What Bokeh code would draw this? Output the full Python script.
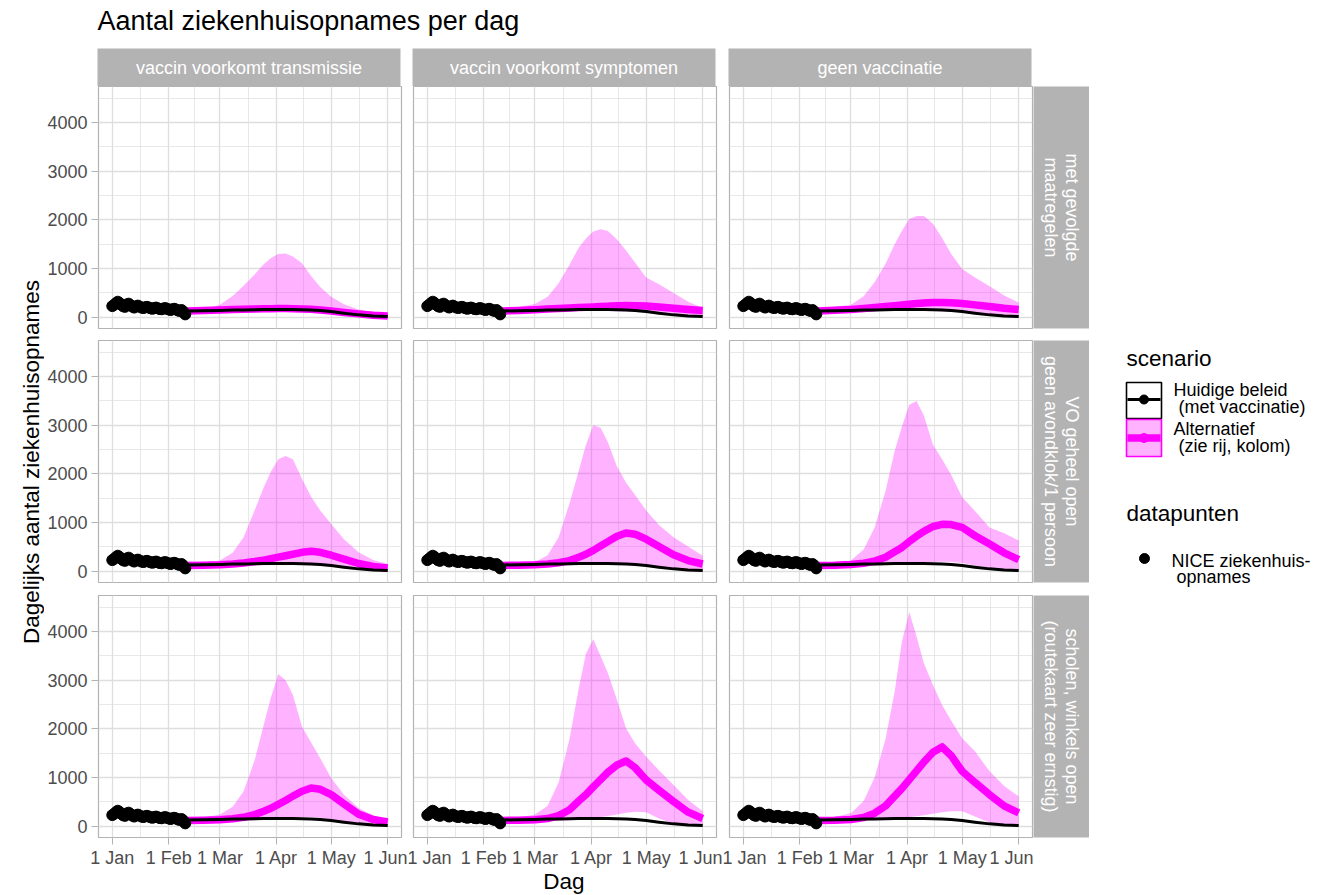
import math
from bokeh.plotting import figure
from bokeh.layouts import row, column
from bokeh.models import Range1d, FixedTicker, ColumnDataSource
from bokeh.embed import file_html
from bokeh.resources import INLINE
from bokeh.core.properties import value

FONT = "Liberation Sans"

# ---------------- data ----------------
title_text = "Aantal ziekenhuisopnames per dag"
y_title = "Dagelijks aantal ziekenhuisopnames"
x_title = "Dag"
col_labels = ["vaccin voorkomt transmissie", "vaccin voorkomt symptomen", "geen vaccinatie"]
row_labels = ["met gevolgde\nmaatregelen",
              "VO geheel open\ngeen avondklok/1 persoon",
              "scholen, winkels open\n(routekaart zeer ernstig)"]
month_ticks = [0, 31, 59, 90, 120, 151]          # days since 1 Jan 2021
month_labels = ["1 Jan", "1 Feb", "1 Mar", "1 Apr", "1 May", "1 Jun"]
y_ticks = [0, 1000, 2000, 3000, 4000]

# NICE observed hospital admissions (days since 1 Jan)
obs_day = list(range(0, 41))
obs_val = [230, 255, 290, 320, 295, 255, 225, 215, 265, 280, 250, 220, 200, 225, 240,
           220, 200, 190, 205, 215, 200, 185, 175, 190, 200, 185, 170, 165, 180, 190,
           175, 160, 150, 165, 175, 160, 140, 130, 150, 115, 60]

model_day = [41, 50, 59, 66, 72, 78, 83, 87, 91, 95, 99, 104, 109, 114, 120, 127, 135, 143, 151]

huidig = [130, 135, 142, 148, 152, 156, 158, 160, 160, 160, 158, 155, 150, 140, 118, 85, 50, 28, 15]

up_r1c1 = [140, 160, 260, 440, 650, 880, 1090, 1220, 1300, 1310, 1250, 1110, 850, 620, 420, 270, 160, 100, 70]
med_r1c1 = [130, 140, 150, 160, 165, 170, 175, 178, 180, 180, 178, 172, 165, 150, 130, 100, 70, 40, 25]
lo_r1c1 = [100, 105, 110, 115, 118, 120, 120, 120, 120, 118, 115, 110, 100, 90, 65, 40, 20, 10, 0]

up_r1c2 = [170, 210, 275, 420, 700, 1080, 1430, 1620, 1760, 1810, 1770, 1600, 1370, 1120, 815, 680, 500, 320, 190]
med_r1c2 = [130, 140, 155, 170, 180, 190, 200, 207, 212, 220, 228, 235, 240, 238, 230, 210, 185, 160, 140]
lo_r1c2 = [100, 105, 110, 115, 120, 125, 128, 130, 130, 130, 128, 125, 118, 110, 95, 75, 50, 30, 15]

up_r1c3 = [170, 210, 260, 430, 720, 1100, 1500, 1780, 2020, 2080, 2080, 1920, 1630, 1300, 990, 815, 640, 450, 300]
med_r1c3 = [130, 145, 160, 180, 200, 220, 240, 255, 270, 282, 292, 302, 305, 300, 285, 255, 220, 185, 160]
lo_r1c3 = [100, 105, 112, 118, 124, 130, 134, 136, 138, 138, 136, 132, 125, 115, 100, 80, 55, 35, 20]

up_r2c1 = [150, 180, 220, 380, 700, 1250, 1720, 2050, 2300, 2370, 2300, 1900, 1530, 1250, 970, 660, 390, 230, 150]
med_r2c1 = [120, 125, 135, 150, 170, 200, 230, 260, 290, 320, 350, 390, 410, 390, 330, 250, 160, 100, 70]
lo_r2c1 = [100, 100, 105, 110, 115, 120, 125, 128, 130, 132, 132, 130, 125, 115, 95, 70, 40, 20, 10]

up_r2c2 = [150, 170, 185, 330, 700, 1400, 2060, 2600, 3000, 2950, 2650, 2150, 1820, 1560, 1250, 950, 700, 510, 320]
med_r2c2 = [120, 125, 135, 150, 175, 220, 290, 350, 430, 520, 610, 720, 785, 760, 660, 510, 340, 220, 150]
lo_r2c2 = [100, 100, 105, 110, 115, 122, 130, 136, 142, 148, 152, 155, 155, 148, 130, 100, 60, 30, 15]

up_r2c3 = [150, 180, 220, 450, 900, 1650, 2470, 2980, 3420, 3500, 3200, 2600, 2300, 1980, 1520, 1240, 900, 780, 630]
med_r2c3 = [120, 125, 140, 165, 210, 290, 400, 490, 610, 720, 820, 920, 965, 960, 900, 730, 560, 380, 240]
lo_r2c3 = [100, 100, 105, 112, 120, 130, 140, 150, 160, 170, 180, 190, 195, 190, 170, 120, 70, 35, 20]

up_r3c1 = [150, 180, 240, 400, 720, 1350, 2080, 2650, 3130, 3000, 2700, 2050, 1720, 1400, 990, 650, 375, 220, 140]
med_r3c1 = [120, 125, 135, 155, 185, 240, 310, 370, 450, 530, 620, 720, 785, 760, 650, 460, 250, 140, 90]
lo_r3c1 = [100, 100, 105, 110, 115, 125, 135, 145, 155, 165, 175, 185, 190, 175, 140, 90, 50, 25, 15]

up_r3c2 = [150, 180, 240, 420, 900, 1800, 2830, 3550, 3840, 3500, 3150, 2600, 2010, 1700, 1430, 1150, 850, 540, 310]
med_r3c2 = [120, 125, 135, 160, 220, 340, 520, 650, 810, 960, 1110, 1260, 1340, 1200, 950, 740, 510, 290, 160]
lo_r3c2 = [100, 100, 105, 110, 115, 125, 140, 155, 170, 190, 210, 240, 280, 300, 290, 160, 60, 30, 20]

up_r3c3 = [160, 190, 270, 520, 1000, 1800, 2770, 3800, 4400, 3900, 3350, 2900, 2490, 2170, 1810, 1540, 1130, 830, 610]
med_r3c3 = [120, 125, 140, 180, 270, 420, 620, 780, 960, 1140, 1320, 1520, 1630, 1450, 1130, 900, 650, 420, 275]
lo_r3c3 = [100, 100, 105, 115, 125, 140, 155, 170, 185, 205, 225, 260, 290, 310, 310, 200, 80, 40, 30]

UP = [[up_r1c1, up_r1c2, up_r1c3], [up_r2c1, up_r2c2, up_r2c3], [up_r3c1, up_r3c2, up_r3c3]]
MED = [[med_r1c1, med_r1c2, med_r1c3], [med_r2c1, med_r2c2, med_r2c3], [med_r3c1, med_r3c2, med_r3c3]]
LO = [[lo_r1c1, lo_r1c2, lo_r1c3], [lo_r2c1, lo_r2c2, lo_r2c3], [lo_r3c1, lo_r3c2, lo_r3c3]]

# ---------------- styling / layout ----------------
GREY70 = "#b3b3b3"
GRID = "#dedede"
FW, FH = 303, 242
YLAB_W = 44
LEFTB = [53, 6, 7]
RIGHTB = [6, 6, 1]
TOPB = [0, 6, 7]
BOTB = [6, 6, 31]
STRIP_W = 56
COLW = [LEFTB[i] + FW + RIGHTB[i] for i in range(3)]
LEG_W = 1317 - YLAB_W - sum(COLW) - STRIP_W
TOTAL_W = 1317
HEAD_H = 86
GRID_H = sum(TOPB) + sum(BOTB) + 3 * FH
FOOT_H = 895 - HEAD_H - GRID_H
GRID_BOTTOM = HEAD_H + GRID_H


def blank(w, h):
    p = figure(frame_width=w, frame_height=h,
               x_range=Range1d(0, w), y_range=Range1d(0, h),
               output_backend="svg", toolbar_location=None, tools="",
               x_axis_location=None, y_axis_location=None,
               min_border_left=0, min_border_right=0, min_border_top=0, min_border_bottom=0)
    p.grid.visible = False
    p.outline_line_color = None
    p.background_fill_color = "white"
    p.border_fill_color = "white"
    return p


def facet(r, c):
    p = figure(frame_width=FW, frame_height=FH,
               x_range=Range1d(-7.55, 158.55), y_range=Range1d(-230, 4740),
               output_backend="svg", toolbar_location=None, tools="",
               min_border_left=LEFTB[c], min_border_right=RIGHTB[c],
               min_border_top=TOPB[r], min_border_bottom=BOTB[r])
    p.outline_line_color = GREY70
    p.outline_line_width = 1.2
    p.background_fill_color = "white"
    p.border_fill_color = "white"

    p.xaxis.ticker = FixedTicker(ticks=month_ticks, minor_ticks=[15.5, 45, 74.5, 105, 135.5])
    p.yaxis.ticker = FixedTicker(ticks=y_ticks, minor_ticks=[500, 1500, 2500, 3500, 4500])
    p.xaxis.major_label_overrides = {t: l for t, l in zip(month_ticks, month_labels)}
    for ax in (p.xaxis, p.yaxis):
        ax.axis_line_color = None
        ax.major_tick_line_color = GREY70
        ax.major_tick_line_width = 1
        ax.major_tick_out = 7
        ax.major_tick_in = 0
        ax.minor_tick_out = 0
        ax.minor_tick_in = 0
        ax.major_label_text_font = FONT
        ax.major_label_text_font_size = "18px"
        ax.major_label_text_color = "#4d4d4d"
    p.yaxis.major_label_standoff = 4
    p.xaxis.major_label_standoff = 3
    for g in (p.xgrid, p.ygrid):
        g.grid_line_color = GRID
        g.grid_line_width = 1.3
        g.minor_grid_line_color = GRID
        g.minor_grid_line_width = 0.7
    if c != 0:
        p.yaxis.visible = False
    if r != 2:
        p.xaxis.visible = False

    src = ColumnDataSource(dict(x=model_day, lo=LO[r][c], up=UP[r][c], med=MED[r][c], cur=huidig))
    p.varea(x="x", y1="lo", y2="up", source=src, fill_color="magenta", fill_alpha=0.3)
    p.line(x="x", y="med", source=src, line_color="magenta", line_width=7.5, line_join="round")
    p.line(x="x", y="cur", source=src, line_color="black", line_width=3, line_join="round")
    obs = ColumnDataSource(dict(x=obs_day, y=obs_val))
    p.scatter(x="x", y="y", source=obs, size=11, color="black")
    return p


def right_strip(r):
    p = figure(frame_width=STRIP_W, frame_height=FH, x_range=Range1d(0, 1), y_range=Range1d(0, 1),
               output_backend="svg", toolbar_location=None, tools="",
               x_axis_location=None, y_axis_location=None,
               min_border_left=0, min_border_right=0,
               min_border_top=TOPB[r], min_border_bottom=BOTB[r])
    p.grid.visible = False
    p.outline_line_color = None
    p.background_fill_color = GREY70
    p.border_fill_color = "white"
    p.text(x=[0.5], y=[0.5], text=[row_labels[r]], angle=-math.pi / 2,
           text_align="center", text_baseline="middle", text_color="white",
           text_font=value(FONT), text_font_size="18px", text_line_height=1.05)
    return p


def txt(p, x, y, s, size, align="left", angle=0.0, color="black"):
    p.text(x=x, y=y, text=s, angle=angle, text_align=align, text_baseline="middle",
           text_color=color, text_font=value(FONT), text_font_size=size)


# header: title + column strips (pixel coordinates, y up from bottom of header)
head = blank(TOTAL_W, HEAD_H)
txt(head, [97], [HEAD_H - 20.5], [title_text], "27px")
strip_left = [97, 412, 728]
head.quad(left=strip_left, right=[s + FW for s in strip_left], bottom=[0] * 3, top=[38] * 3,
          fill_color=GREY70, line_color=None)
txt(head, [s + FW / 2 for s in strip_left], [19] * 3, col_labels, "18px", align="center", color="white")

# y-axis title spanning all rows
ylab = blank(YLAB_W, GRID_H)
txt(ylab, [31], [GRID_BOTTOM - 461.5], [y_title], "22.5px", align="center", angle=math.pi / 2)

rows = []
for r in range(3):
    rows.append(row(facet(r, 0), facet(r, 1), facet(r, 2), right_strip(r)))
grid_block = column(*rows)

# legend (pixel coordinates)
leg = blank(LEG_W, GRID_H)
L0X = YLAB_W + sum(COLW) + STRIP_W


def lx(v):
    return v - L0X


def ly(v):
    return GRID_BOTTOM - v


txt(leg, [lx(1125)], [ly(358)], ["scenario"], "22.5px")
leg.quad(left=[lx(1125)], right=[lx(1160)], top=[ly(382)], bottom=[ly(418)],
         fill_color="white", line_color="black", line_width=1.6)
leg.line(x=[lx(1126), lx(1159)], y=[ly(399), ly(399)], line_color="black", line_width=3)
leg.scatter(x=[lx(1142.5)], y=[ly(399)], size=9, color="black")
leg.quad(left=[lx(1125)], right=[lx(1160)], top=[ly(419)], bottom=[ly(456)],
         fill_color="magenta", fill_alpha=0.3, line_color="magenta", line_width=1.6)
leg.line(x=[lx(1126), lx(1159)], y=[ly(437.5), ly(437.5)], line_color="magenta", line_width=7.5)
leg.scatter(x=[lx(1142.5)], y=[ly(437.5)], size=9, color="magenta")
txt(leg, [lx(1172), lx(1177), lx(1172), lx(1177)], [ly(389.5), ly(406.5), ly(428.5), ly(445.5)],
    ["Huidige beleid", "(met vaccinatie)", "Alternatief", "(zie rij, kolom)"], "18px")
txt(leg, [lx(1125)], [ly(513)], ["datapunten"], "22.5px")
leg.scatter(x=[lx(1143)], y=[ly(558)], size=10, color="black")
txt(leg, [lx(1170), lx(1175)], [ly(560.5), ly(576.5)], ["NICE ziekenhuis-", "opnames"], "18px")

foot = blank(TOTAL_W, FOOT_H)
txt(foot, [412 + FW / 2], [895 - 879], [x_title], "22.5px", align="center")

layout = column(head, row(ylab, grid_block, leg), foot)

open("out.html", "w").write(file_html(layout, INLINE))
